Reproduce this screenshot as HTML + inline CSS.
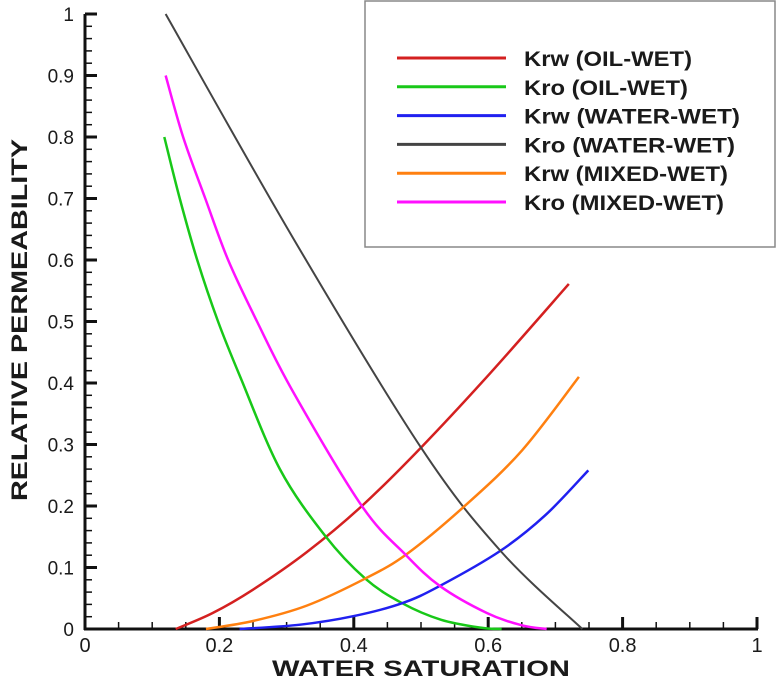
<!DOCTYPE html>
<html><head><meta charset="utf-8"><style>
body{margin:0;background:#fff}
svg{display:block;font-family:"Liberation Sans",Arial,sans-serif}
</style></head><body>
<svg id="chart" width="779" height="692">
<g id="axes"></g>
<g id="series"></g>
<text x="27" y="320" transform="rotate(-90 27 320)" text-anchor="middle" font-size="22" font-weight="bold" fill="#1a1a1a" textLength="362" lengthAdjust="spacingAndGlyphs">RELATIVE PERMEABILITY</text>
<text x="421" y="676" text-anchor="middle" font-size="22" font-weight="bold" fill="#1a1a1a" textLength="298" lengthAdjust="spacingAndGlyphs">WATER SATURATION</text>
<g id="legend">
<rect x="365" y="1" width="410" height="246" fill="#fff" stroke="#888" stroke-width="1.5"/>
</g>
</svg>
<script>
const xTicks=[0,0.2,0.4,0.6,0.8,1];
const xTickLabels=["0","0.2","0.4","0.6","0.8","1"];
const yTicks=[0,0.1,0.2,0.3,0.4,0.5,0.6,0.7,0.8,0.9,1];
const yTickLabels=["0","0.1","0.2","0.3","0.4","0.5","0.6","0.7","0.8","0.9","1"];
const seriesNames=["Krw (OIL-WET)","Kro (OIL-WET)","Krw (WATER-WET)","Kro (WATER-WET)","Krw (MIXED-WET)","Kro (MIXED-WET)"];
const seriesColors=["#d42020","#18c818","#2020f0","#444444","#ff8010","#ff10ff"];
const legendTextWidths=[168,164,216,211,204,200];
const krwOilSw=[0.135,0.19,0.25,0.33,0.412,0.5,0.603,0.72];
const krwOilKr=[0,0.026,0.064,0.125,0.2,0.295,0.416,0.561];
const kroOilSw=[0.118,0.141,0.167,0.198,0.231,0.29,0.357,0.417,0.472,0.53,0.59,0.62];
const kroOilKr=[0.8,0.7,0.6,0.5,0.41,0.26,0.152,0.082,0.042,0.015,0.002,0];
const krwWaterSw=[0.23,0.32,0.4,0.472,0.528,0.618,0.685,0.749];
const krwWaterKr=[0,0.007,0.021,0.042,0.07,0.127,0.185,0.258];
const kroWaterSw=[0.12,0.31,0.5,0.62,0.74];
const kroWaterKr=[1,0.635,0.295,0.125,0];
const krwMixedSw=[0.18,0.25,0.33,0.417,0.479,0.565,0.65,0.735];
const krwMixedKr=[0,0.013,0.038,0.082,0.122,0.2,0.29,0.41];
const kroMixedSw=[0.12,0.146,0.179,0.213,0.256,0.31,0.412,0.476,0.528,0.598,0.65,0.687];
const kroMixedKr=[0.9,0.8,0.7,0.6,0.5,0.385,0.2,0.122,0.07,0.026,0.006,0];

const NS="http://www.w3.org/2000/svg";
const X0=85,X1=757,Y0=629,Y1=14;
const xs=v=>X0+(X1-X0)*v, ys=v=>Y0-(Y0-Y1)*v;
function mk(t,a,p){const e=document.createElementNS(NS,t);for(const k in a)e.setAttribute(k,a[k]);p.appendChild(e);return e;}
const ax=document.getElementById('axes');
let e=mk('line',{x1:X0-1,y1:Y0,x2:X1+1,y2:Y0,stroke:'#111','stroke-width':3},ax);


e=mk('line',{x1:X0,y1:Y0+1,x2:X0,y2:Y1,stroke:'#111','stroke-width':3},ax);


for(let i=0;i<=20;i++){const v=i/20,maj=i%4==0;
 e=mk('line',{x1:xs(v),y1:Y0,x2:xs(v),y2:Y0-(maj?12:7),stroke:'#111','stroke-width':maj?3:1.5},ax);
 
 }
for(let i=0;i<=50;i++){const v=i/50,maj=i%5==0;
 e=mk('line',{x1:X0,y1:ys(v),x2:X0+(maj?12:7),y2:ys(v),stroke:'#111','stroke-width':maj?3:1.5},ax);
 
 }
xTicks.forEach((v,i)=>{e=mk('text',{x:xs(v),y:Y0+23,'text-anchor':'middle','font-size':20,fill:'#1a1a1a'},ax);e.textContent=xTickLabels[i];
 
 });
yTicks.forEach((v,i)=>{e=mk('text',{x:X0-11,y:ys(v)+7,'text-anchor':'end','font-size':19,fill:'#1a1a1a'},ax);e.textContent=yTickLabels[i];
 
 });
const sw=[krwOilSw,kroOilSw,krwWaterSw,kroWaterSw,krwMixedSw,kroMixedSw];
const kr=[krwOilKr,kroOilKr,krwWaterKr,kroWaterKr,krwMixedKr,kroMixedKr];
const sg=document.getElementById('series');
sw.forEach((s,k)=>{
 const pts=s.map((v,i)=>[xs(v),ys(kr[k][i])]);
 let d='M'+pts[0].join(',');
 for(let i=0;i<pts.length-1;i++){const p0=pts[i-1]||pts[i],p1=pts[i],p2=pts[i+1],p3=pts[i+2]||p2;
  d+=` C${p1[0]+(p2[0]-p0[0])/6},${p1[1]+(p2[1]-p0[1])/6} ${p2[0]-(p3[0]-p1[0])/6},${p2[1]-(p3[1]-p1[1])/6} ${p2[0]},${p2[1]}`;}
 e=mk('path',{d:d,fill:'none',stroke:seriesColors[k],'stroke-width':k==3?2:2.5,'stroke-linejoin':'round'},sg);
 
 
});
const lg=document.getElementById('legend');
seriesNames.forEach((n,k)=>{const y=58+k*28.8;
 e=mk('line',{x1:397,y1:y,x2:506,y2:y,stroke:seriesColors[k],'stroke-width':3},lg);
 
 
 e=mk('text',{x:524,y:y+8,'font-size':21,'font-weight':'bold',fill:'#1a1a1a',textLength:legendTextWidths[k],lengthAdjust:'spacingAndGlyphs'},lg);e.textContent=n;
 
 
});
</script>
</body></html>
